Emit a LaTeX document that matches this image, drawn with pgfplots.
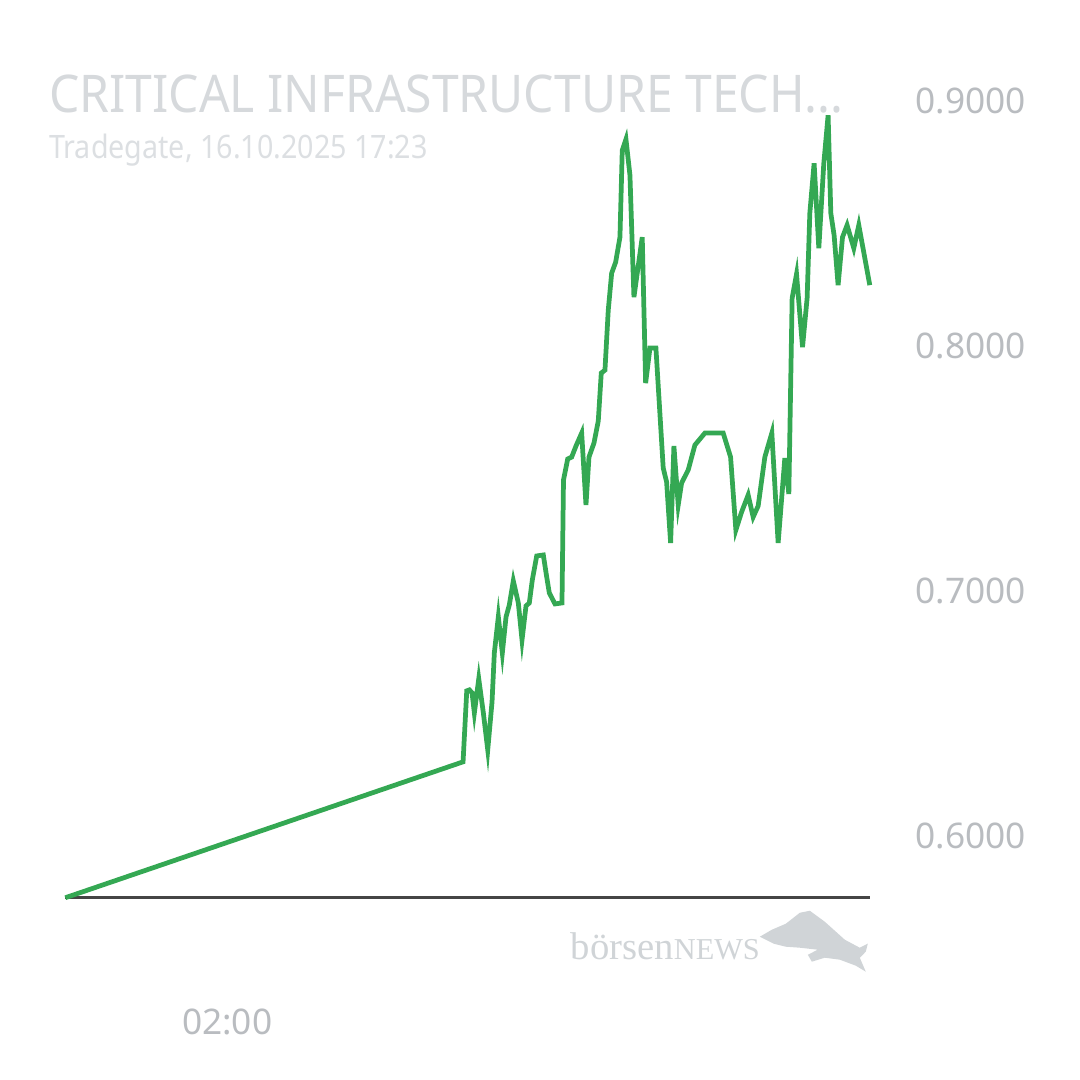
\documentclass[border=0pt]{standalone}
\usepackage{pgfplots}
\pgfplotsset{compat=1.18}
\usepackage{fontspec}
\setmainfont{Noto Sans}
\newfontfamily\titlefont[FakeStretch=0.925]{Noto Sans}
\newfontfamily\subfont[FakeStretch=0.89]{Noto Sans}
\newfontfamily\logofont{Liberation Serif}
\definecolor{linegreen}{HTML}{34A853}
\definecolor{titlegray}{HTML}{D6D9DC}
\definecolor{subgray}{HTML}{DCDFE2}
\definecolor{tickgray}{HTML}{B9BCC0}
\definecolor{basegray}{HTML}{454545}
\definecolor{logogray}{HTML}{D0D4D7}

% price series, x = position along the time axis
\pgfplotstableread{
x y
65 0.5747
463 0.6302
466.7 0.6592
469.3 0.6596
472 0.6584
474.3 0.6502
478.7 0.6641
483.3 0.6502
487.7 0.6351
492 0.6547
494.3 0.6747
498.3 0.6894
502.3 0.6747
506 0.6894
509.3 0.6943
513.3 0.7041
518.3 0.6951
522 0.6800
526 0.6939
529.3 0.6951
532.3 0.7045
536.7 0.7143
543.3 0.7147
546.7 0.7057
549.3 0.6992
555 0.6947
562 0.6951
563.5 0.7453
567.7 0.7539
571.7 0.7547
576 0.7592
581.7 0.7645
586 0.7351
589 0.7547
594 0.7604
598.3 0.7694
601.3 0.7890
605 0.7902
608.3 0.8147
611.7 0.8298
615.7 0.8343
620 0.8445
622.3 0.8800
626 0.8845
630 0.8698
634 0.8200
637.3 0.8298
642.3 0.8445
645.7 0.7849
650 0.7992
656 0.7992
663.3 0.7502
666.7 0.7445
670.7 0.7196
674 0.7592
678.3 0.7351
681.7 0.7441
688.3 0.7494
695 0.7596
705 0.7645
723.3 0.7645
730.7 0.7547
736 0.7249
741.7 0.7322
748.3 0.7392
753.3 0.7302
758.3 0.7347
765 0.7547
772 0.7645
778.3 0.7196
785 0.7543
789 0.7396
792.3 0.8196
796.7 0.8294
802.7 0.7996
807.3 0.8196
810 0.8543
814.3 0.8747
819 0.8400
824 0.8747
828.3 0.8943
831 0.8543
834.3 0.8453
838.3 0.8249
842.7 0.8445
847.3 0.8494
854 0.8400
859 0.8494
870 0.8249
}\pricedata

\begin{document}
\begin{tikzpicture}
\begin{axis}[
    width=10cm, height=10cm,
    scale only axis,
    clip=false,
    xmin=0, xmax=1080,
    ymin=0.50041, ymax=0.94122,
    axis line style={draw=none},
    major tick length=0pt,
    ytick={0.6,0.7,0.8,0.9},
    yticklabel pos=right,
    yticklabel style={anchor=center, xshift=-1.01cm, font=\fontsize{9.3}{11}\selectfont, text=tickgray},
    /pgf/number format/.cd, fixed, fixed zerofill, precision=4, assume math mode=true,
    /pgfplots/.cd,
    xtick={227},
    xticklabels={02:00},
    xticklabel style={anchor=center, yshift=0.537cm, font=\fontsize{9.3}{11}\selectfont, text=tickgray},
]
\path (rel axis cs:0,0) rectangle (rel axis cs:1,1);

% baseline of the volume area
\addplot[basegray, line width=0.7pt] coordinates {(65,0.5747) (870,0.5747)};

% price line
\addplot[linegreen, line width=1.25pt, line join=miter] table[x=x, y=y] {\pricedata};

% titles
\node[anchor=base west, inner sep=0pt, text=titlegray, font=\titlefont\fontsize{13.7}{16}\selectfont]
    at (axis cs:48,0.89551) {CRITICAL INFRASTRUCTURE TECH...};
\node[anchor=base west, inner sep=0pt, text=subgray, font=\subfont\fontsize{8.5}{10}\selectfont]
    at (axis cs:48,0.87673) {Tradegate, 16.10.2025 17:23};

% watermark
\node[anchor=base west, inner sep=0pt, text=logogray, font=\logofont\fontsize{10.2}{12}\selectfont]
    at (axis cs:570,0.54939) {börsen{\fontsize{8.0}{10}\selectfont NEWS}};
\fill[logogray] (axis cs:760,{0.9-(937-101)/2450}) -- (axis cs:772,{0.9-(930-101)/2450})
  -- (axis cs:786,{0.9-(924-101)/2450}) -- (axis cs:800,{0.9-(913-101)/2450})
  -- (axis cs:810,{0.9-(911-101)/2450}) -- (axis cs:825,{0.9-(922-101)/2450})
  -- (axis cs:845,{0.9-(940-101)/2450}) -- (axis cs:860,{0.9-(948-101)/2450})
  -- (axis cs:868,{0.9-(944-101)/2450}) -- (axis cs:866,{0.9-(952-101)/2450})
  -- (axis cs:860,{0.9-(958-101)/2450}) -- (axis cs:866,{0.9-(972-101)/2450})
  -- (axis cs:856,{0.9-(966-101)/2450}) -- (axis cs:840,{0.9-(960-101)/2450})
  -- (axis cs:825,{0.9-(958-101)/2450}) -- (axis cs:812,{0.9-(962-101)/2450})
  -- (axis cs:808,{0.9-(955-101)/2450}) -- (axis cs:818,{0.9-(950-101)/2450})
  -- (axis cs:800,{0.9-(948-101)/2450}) -- (axis cs:786,{0.9-(947-101)/2450})
  -- (axis cs:774,{0.9-(944-101)/2450}) -- cycle;
\end{axis}
\end{tikzpicture}
\end{document}
